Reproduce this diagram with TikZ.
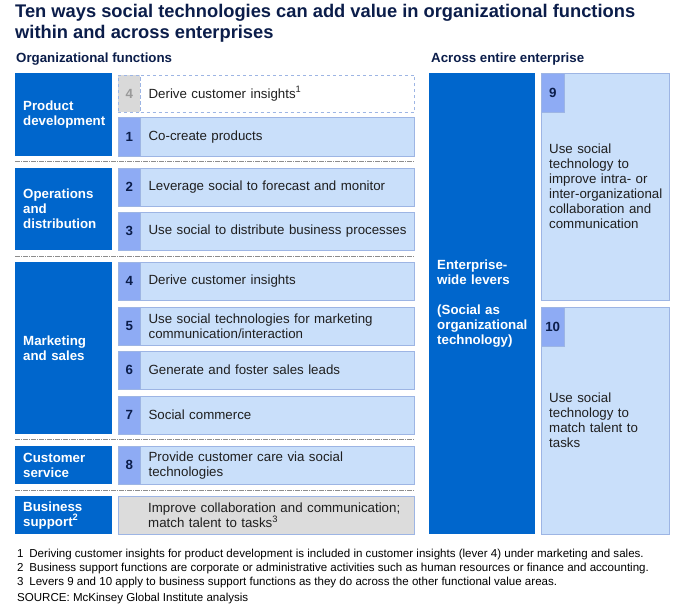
\documentclass[tikz,border=0pt]{standalone}
\usepackage{fontspec}
\setmainfont{Liberation Sans}
\usetikzlibrary{positioning}
\definecolor{mckBlue}{HTML}{0066CC}
\definecolor{mckNavy}{HTML}{0B1D4A}
\definecolor{rowFill}{HTML}{C9DFFA}
\definecolor{rowEdge}{HTML}{9DB5E4}
\definecolor{numFill}{HTML}{8EABF4}
\definecolor{greyFill}{HTML}{DCDCDC}
\colorlet{sepGray}{black!45}

\begin{document}
\begin{tikzpicture}[x=1pt, y=-1pt,
  fnbox/.style={fill=mckBlue, text=white, anchor=north west, align=left,
                text width=81pt, inner xsep=8pt, inner ysep=0pt,
                font=\bfseries\fontsize{13.3}{15}\selectfont},
  numbox/.style={fill=numFill, draw=rowEdge, anchor=north west, minimum width=22pt,
                 inner sep=0pt, text=mckNavy, font=\bfseries\fontsize{13.3}{15}\selectfont},
  rowbox/.style={fill=rowFill, draw=rowEdge, anchor=north west, align=left,
                 text width=258pt, inner xsep=8pt, inner ysep=0pt, text=black!88,
                 font=\fontsize{13.3}{15}\selectfont},
  head/.style={anchor=west, inner sep=0pt, text=mckNavy, font=\bfseries\fontsize{13.3}{15}\selectfont},
]
\fill[white] (0,0) rectangle (689,609);
\useasboundingbox (0,0) rectangle (689,609);

% --- title and headers ---
\node[anchor=north west, align=left, inner sep=0pt, text=mckNavy,
      font=\bfseries\fontsize{18.3}{21}\selectfont] (title) at (15,4)
  {Ten ways social technologies can add value in organizational functions\\within and across enterprises};
\node[head] (hdorg) at (16,59) {Organizational functions};
\node[head] (hdent) at (431,59) {Across entire enterprise};

% --- Product development ---
\node[fnbox, minimum height=83pt] (pd) at (15,73) {Product\\development};
\node[numbox, fill=black!15, dashed, text=black!40, minimum height=37pt] (n4a) at (118,75) {4};
\node[rowbox, fill=white, dashed, minimum height=37pt] (r4a) at (n4a.north east) {Derive customer insights\textsuperscript{1}};
\node[numbox, minimum height=39pt] (n1) at (118,117) {1};
\node[rowbox, minimum height=39pt] (r1) at (n1.north east) {Co-create products};

% --- Operations and distribution ---
\node[fnbox, minimum height=82pt] (ops) at (15,168) {Operations\\and\\distribution};
\node[numbox, minimum height=38pt] (n2) at (118,168) {2};
\node[rowbox, minimum height=38pt] (r2) at (n2.north east) {Leverage social to forecast and monitor};
\node[numbox, minimum height=38pt] (n3) at (118,212) {3};
\node[rowbox, minimum height=38pt] (r3) at (n3.north east) {Use social to distribute business processes};

% --- Marketing and sales ---
\node[fnbox, minimum height=172pt] (mkt) at (15,262) {Marketing\\and sales};
\node[numbox, minimum height=38pt] (n4) at (118,262) {4};
\node[rowbox, minimum height=38pt] (r4) at (n4.north east) {Derive customer insights};
\node[numbox, minimum height=38pt] (n5) at (118,307) {5};
\node[rowbox, minimum height=38pt] (r5) at (n5.north east) {Use social technologies for marketing\\communication/interaction};
\node[numbox, minimum height=38pt] (n6) at (118,351) {6};
\node[rowbox, minimum height=38pt] (r6) at (n6.north east) {Generate and foster sales leads};
\node[numbox, minimum height=38pt] (n7) at (118,396) {7};
\node[rowbox, minimum height=38pt] (r7) at (n7.north east) {Social commerce};

% --- Customer service ---
\node[fnbox, minimum height=38pt] (cs) at (15,446) {Customer\\service};
\node[numbox, minimum height=38pt] (n8) at (118,446) {8};
\node[rowbox, minimum height=38pt] (r8) at (n8.north east) {Provide customer care via social\\technologies};

% --- Business support ---
\node[fnbox, minimum height=38pt] (bs) at (15,496) {Business\\support\textsuperscript{2}};
\node[rowbox, fill=greyFill, text width=280pt, minimum height=38pt] (bsrow) at (118,496) {};
\node[rowbox, fill=none, draw=none, anchor=west] (bstext) at ([xshift=22pt]bsrow.west)
  {Improve collaboration and communication;\\match talent to tasks\textsuperscript{3}};

% separators
\foreach \y in {161,256,439.5,490.5}
  \draw[sepGray, line width=0.6pt, dash pattern=on 5pt off 1pt on 1pt off 1pt] (15,\y) -- (414,\y);

% --- Across entire enterprise ---
\node[fnbox, text width=90pt, minimum height=461pt] (ent) at (429,73)
  {Enterprise-\\wide levers\\[15pt](Social as\\organizational\\technology)};
\node[rowbox, text width=112pt, minimum height=227pt] (lev9) at (541,73)
  {Use social\\technology to\\improve intra- or\\\mbox{inter-organizational}\\collaboration and\\communication};
\node[numbox, minimum width=23pt, minimum height=39pt] (n9) at (lev9.north west) {9};
\node[rowbox, text width=112pt, minimum height=227pt] (lev10) at (541,307)
  {Use social\\technology to\\match talent to\\tasks};
\node[numbox, minimum width=23pt, minimum height=39pt] (n10) at (lev10.north west) {10};

% --- notes ---
\node[anchor=north west, align=left, inner sep=0pt, font=\fontsize{11.55}{14}\selectfont] (notes) at (17,548.5)
  {1\enspace Deriving customer insights for product development is included in customer insights (lever 4) under marketing and sales.\\
   2\enspace Business support functions are corporate or administrative activities such as human resources or finance and accounting.\\
   3\enspace Levers 9 and 10 apply to business support functions as they do across the other functional value areas.\\[2pt]
   SOURCE: McKinsey Global Institute analysis};
\end{tikzpicture}
\end{document}
